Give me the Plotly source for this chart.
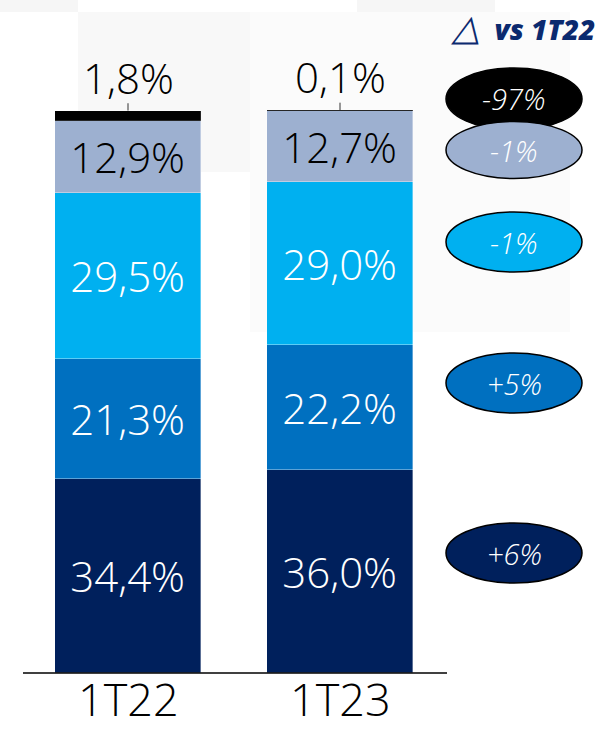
import plotly.graph_objects as go

# Quarters and stacked shares (%), bottom to top
periods = ["1T22", "1T23"]
seg_navy = [34.4, 36.0]
seg_blue = [21.3, 22.2]
seg_cyan = [29.5, 29.0]
seg_grey = [12.9, 12.7]
seg_black = [1.8, 0.1]

# Change vs 1T22, listed top to bottom (black, grey, cyan, blue, navy)
deltas = ["-97%", "-1%", "-1%", "+5%", "+6%"]

C_NAVY = "#00205C"
C_BLUE = "#0070C0"
C_CYAN = "#00B0F0"
C_GREY = "#9DB0D0"
C_BLACK = "#000000"

FONT = "Open Sans"
W, H = 602, 732


def fmt(v):
    return f"{v:.1f}".replace(".", ",") + "%"


fig = go.Figure()

series = [
    (seg_navy, C_NAVY, "white"),
    (seg_blue, C_BLUE, "white"),
    (seg_cyan, C_CYAN, "white"),
    (seg_grey, C_GREY, "black"),
]
for vals, col, tcol in series:
    fig.add_trace(go.Bar(
        x=periods, y=vals, width=0.689,
        marker=dict(color=col, line=dict(color="rgba(255,255,255,0.45)", width=0.8)),
        text=[fmt(v) for v in vals], textposition="inside",
        insidetextanchor="middle", textangle=0,
        textfont=dict(family=FONT, size=42, color=tcol, weight=300),
        hoverinfo="skip", showlegend=False,
    ))

# thin top segment, labelled above the bar
fig.add_trace(go.Bar(
    x=periods, y=seg_black, width=0.689,
    marker=dict(color=C_BLACK, line=dict(color="rgba(255,255,255,0.3)", width=0.5)),
    hoverinfo="skip", showlegend=False,
))

totals = [a + b + c + d + e for a, b, c, d, e in
          zip(seg_navy, seg_blue, seg_cyan, seg_grey, seg_black)]

annotations = []
shapes = []

# faint background panels
for (x0, y0, x1, y1, c) in [
    (0, 0, 78, 12, "#f6f6f6"),
    (357, 0, 495, 12, "#f6f6f6"),
    (78, 12, 250, 172, "#f8f8f8"),
    (250, 12, 570, 332, "#fbfbfb"),
]:
    shapes.append(dict(type="rect", xref="paper", yref="paper",
                       x0=x0 / W, x1=x1 / W, y0=1 - y1 / H, y1=1 - y0 / H,
                       fillcolor=c, line=dict(width=0), layer="below"))

for p, top, v in zip(periods, totals, seg_black):
    shapes.append(dict(type="line", xref="x", yref="y", x0=p, x1=p,
                       y0=top, y1=top + 1.3, line=dict(color="#333333", width=1)))
    annotations.append(dict(x=p, y=top, xref="x", yref="y", text=fmt(v),
                            showarrow=False, xanchor="center", yanchor="bottom", yshift=3,
                            font=dict(family=FONT, size=42, color="black", weight=300)))
    annotations.append(dict(x=p, y=0, xref="x", yref="paper", text=p,
                            showarrow=False, xanchor="center", yanchor="bottom", yshift=1,
                            font=dict(family=FONT, size=45, color="black", weight=300)))

# baseline
shapes.append(dict(type="line", xref="paper", yref="y", x0=23 / W, x1=447 / W,
                   y0=0, y1=0, line=dict(color="black", width=1.6)))

# delta ellipses
ell_cols = [C_BLACK, C_GREY, C_CYAN, C_BLUE, C_NAVY]
ell_cy = [99, 150, 242, 383, 553]
ell_h = [62, 57, 60, 60, 60]
for d, col, cy, eh in zip(deltas, ell_cols, ell_cy, ell_h):
    shapes.append(dict(type="circle", xref="paper", yref="paper",
                       x0=446 / W, x1=582 / W,
                       y0=1 - (cy + eh / 2) / H, y1=1 - (cy - eh / 2) / H,
                       fillcolor=col, line=dict(color="black", width=1.5)))
    annotations.append(dict(x=514 / W, y=1 - cy / H, xref="paper", yref="paper",
                            xanchor="center", yanchor="middle",
                            text=d, showarrow=False,
                            font=dict(family=FONT, size=29, color="white",
                                      style="italic", weight=300)))

annotations.append(dict(x=597 / W, y=1 - 27 / H, xref="paper", yref="paper",
                        xanchor="right", yanchor="middle",
                        text="<span style='font-size:36px;font-weight:300'>△</span>  vs 1T22",
                        showarrow=False,
                        font=dict(family=FONT, size=28, color="#0B2A6F",
                                  style="italic", weight=800)))

px_per_unit = (673 - 110) / 100.0
fig.update_layout(
    width=W, height=H, barmode="stack", bargap=0,
    margin=dict(l=0, r=0, t=0, b=0),
    paper_bgcolor="white", plot_bgcolor="rgba(0,0,0,0)",
    xaxis=dict(range=[-128 / 212, -128 / 212 + W / 212], showticklabels=False,
               showgrid=False, zeroline=False, showline=False, fixedrange=True),
    yaxis=dict(range=[-(H - 673) / px_per_unit, 100 + 110 / px_per_unit],
               showticklabels=False, showgrid=False, zeroline=False,
               showline=False, fixedrange=True),
    shapes=shapes, annotations=annotations,
)

fig.write_html("out.html")
